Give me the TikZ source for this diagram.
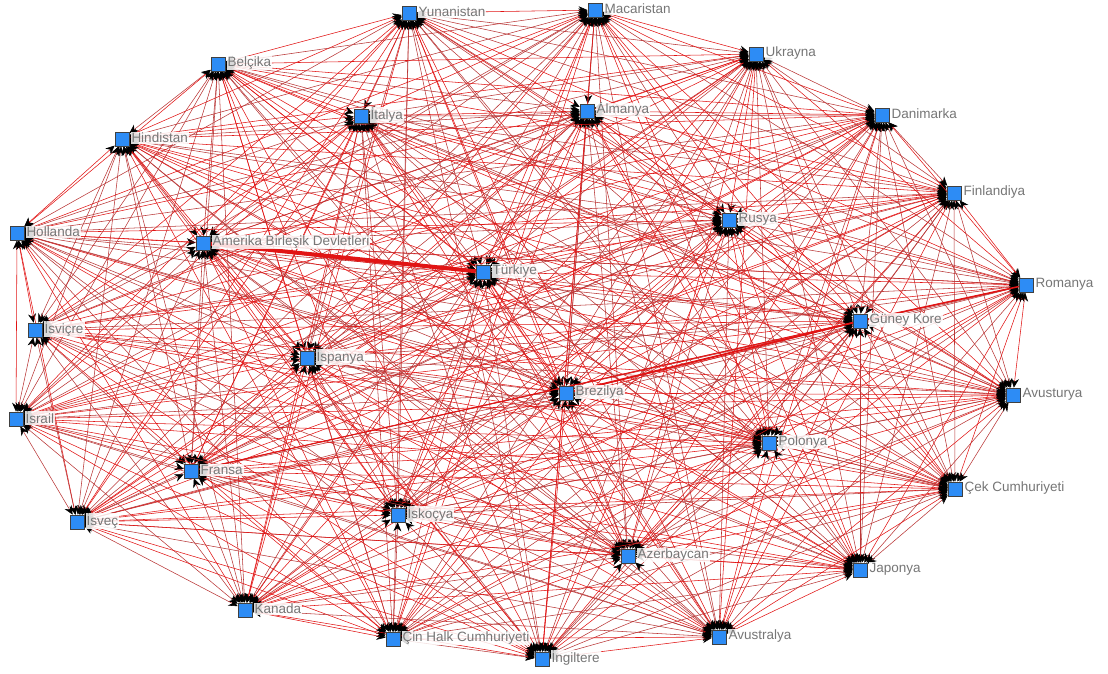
\documentclass[tikz,border=0pt]{standalone}
\usepackage{fontspec}
\setmainfont{Liberation Sans}
\usetikzlibrary{arrows.meta}
\pgfdeclarelayer{bg}
\pgfsetlayers{bg,main}
\definecolor{edgered}{RGB}{225,20,20}
\definecolor{edgedark}{RGB}{185,55,55}
\definecolor{nodeblue}{RGB}{45,140,245}
\definecolor{labelgray}{RGB}{118,118,118}
\tikzset{
  country/.style={draw=black!75, fill=nodeblue, minimum size=14pt, inner sep=0pt, line width=0.6pt},
  clabel/.style={text=labelgray, fill=white, fill opacity=0.85, text opacity=1, inner sep=1pt, anchor=west, font=\fontsize{13.5}{15}\selectfont},
  link/.style={line width=0.55pt, {Stealth[black,length=9pt,width=8pt]}-{Stealth[black,length=9pt,width=8pt]}},
  heavy/.style={draw=edgered},
}
\newcommand\mycountry[4]{%
  \node[country] (#1) at (#2,#3) {};
  \node[clabel] (#1-l) at ([xshift=1pt,yshift=1pt]#1.east) {#4};
}
\def\allc{yun,mac,ukr,bel,ita,alm,dan,hin,fin,rus,hol,abd,tur,rom,gun,isv,isp,bre,avu,isr,pol,fra,cek,isc,sko,aze,jap,kan,cin,avs,ing}
\begin{document}
\begin{tikzpicture}[x=1pt,y=-1pt]
\useasboundingbox (0,0) rectangle (1108,673);
\mycountry{yun}{409}{13}{Yunanistan}
\mycountry{mac}{595}{10}{Macaristan}
\mycountry{ukr}{756}{54}{Ukrayna}
\mycountry{bel}{218}{64}{Belçika}
\mycountry{ita}{361}{116}{İtalya}
\mycountry{alm}{587}{111}{Almanya}
\mycountry{dan}{882}{115}{Danimarka}
\mycountry{hin}{122}{139}{Hindistan}
\mycountry{fin}{954}{193}{Finlandiya}
\mycountry{rus}{729}{220}{Rusya}
\mycountry{hol}{17}{233}{Hollanda}
\mycountry{abd}{203}{243}{Amerika Birleşik Devletleri}
\mycountry{tur}{483}{272}{Türkiye}
\mycountry{rom}{1026}{285}{Romanya}
\mycountry{gun}{860}{321}{Güney Kore}
\mycountry{isv}{35}{330}{İsviçre}
\mycountry{isp}{307}{358}{İspanya}
\mycountry{bre}{566}{393}{Brezilya}
\mycountry{avu}{1013}{395}{Avusturya}
\mycountry{isr}{16}{419}{İsrail}
\mycountry{pol}{769}{443}{Polonya}
\mycountry{fra}{191}{471}{Fransa}
\mycountry{cek}{955}{489}{Çek Cumhuriyeti}
\mycountry{isc}{77}{522}{İsveç}
\mycountry{sko}{398}{515}{İskoçya}
\mycountry{aze}{628}{556}{Azerbaycan}
\mycountry{jap}{860}{570}{Japonya}
\mycountry{kan}{245}{610}{Kanada}
\mycountry{cin}{393}{639}{Çin Halk Cumhuriyeti}
\mycountry{avs}{719}{637}{Avustralya}
\mycountry{ing}{542}{659}{İngiltere}
\begin{pgfonlayer}{bg}
\foreach \a [count=\i] in \allc {
  \foreach \b [count=\j] in \allc {
    \ifnum\j>\i
      \ifodd\numexpr\i+\j\relax
        \draw[link, draw=edgered] (\a) -- (\b);
      \else
        \draw[link, draw=edgedark] (\a) -- (\b);
      \fi
    \fi
  }
}
\draw[heavy, line width=4pt] (abd) -- (tur);
\draw[heavy, line width=1.8pt] (gun) -- (bre);
\draw[heavy, line width=1.5pt] (gun) -- (rom);
\draw[heavy, line width=1pt] (fra) -- (gun);
\end{pgfonlayer}
\end{tikzpicture}
\end{document}
